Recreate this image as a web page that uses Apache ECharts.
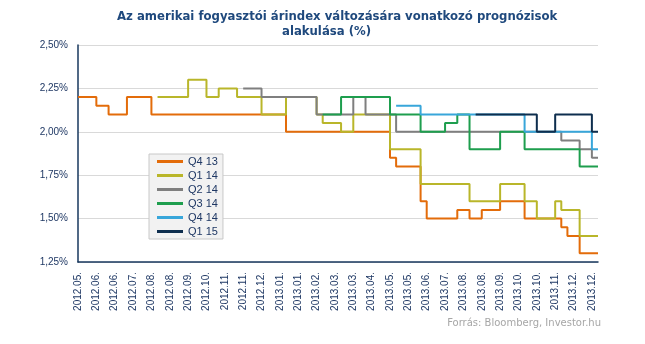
<!DOCTYPE html>
<html>
<head>
<meta charset="utf-8">
<script src="https://cdn.jsdelivr.net/npm/echarts@6/dist/echarts.min.js"></script>
<style>html,body{margin:0;padding:0;background:#fff}#c{width:645px;height:344px}</style>
</head>
<body>
<div id="c"></div>
<script>
// 29 tick labels, one every 3rd weekly observation
var tickLabels = ['2012.05.','2012.06.','2012.06.','2012.07.','2012.08.','2012.08.','2012.09.','2012.10.','2012.11.','2012.11.','2012.12.','2013.01.','2013.01.','2013.02.','2013.03.','2013.03.','2013.04.','2013.05.','2013.05.','2013.06.','2013.07.','2013.08.','2013.08.','2013.09.','2013.10.','2013.10.','2013.11.','2013.12.','2013.12.'];
var seriesNames = ['Q4 13','Q1 14','Q2 14','Q3 14','Q4 14','Q1 15'];
var seriesColors = ['#E36C0A','#B9B62A','#7F7F7F','#1E9E4E','#38A6DA','#0E2E4E'];

var q4_13 = [2.20,2.20,2.20,2.15,2.15,2.10,2.10,2.10,2.20,2.20,
             2.20,2.20,2.10,2.10,2.10,2.10,2.10,2.10,2.10,2.10,
             2.10,2.10,2.10,2.10,2.10,2.10,2.10,2.10,2.10,2.10,
             2.10,2.10,2.10,2.10,2.00,2.00,2.00,2.00,2.00,2.00,
             2.00,2.00,2.00,2.00,2.00,2.00,2.00,2.00,2.00,2.00,
             2.00,1.85,1.80,1.80,1.80,1.80,1.60,1.50,1.50,1.50,
             1.50,1.50,1.55,1.55,1.50,1.50,1.55,1.55,1.55,1.60,
             1.60,1.60,1.60,1.50,1.50,1.50,1.50,1.50,1.50,1.45,
             1.40,1.40,1.30,1.30,1.30,1.30];
var q1_14 = [null,null,null,null,null,null,null,null,null,null,
             null,null,null,2.20,2.20,2.20,2.20,2.20,2.30,2.30,
             2.30,2.20,2.20,2.25,2.25,2.25,2.20,2.20,2.20,2.20,
             2.10,2.10,2.10,2.10,2.20,2.20,2.20,2.20,2.20,2.10,
             2.05,2.05,2.05,2.00,2.00,2.10,2.10,2.10,2.10,2.10,
             2.10,1.90,1.90,1.90,1.90,1.90,1.70,1.70,1.70,1.70,
             1.70,1.70,1.70,1.70,1.60,1.60,1.60,1.60,1.60,1.70,
             1.70,1.70,1.70,1.60,1.60,1.50,1.50,1.50,1.60,1.55,
             1.55,1.55,1.40,1.40,1.40,1.40];
var q2_14 = [null,null,null,null,null,null,null,null,null,null,
             null,null,null,null,null,null,null,null,null,null,
             null,null,null,null,null,null,null,2.25,2.25,2.25,
             2.20,2.20,2.20,2.20,2.20,2.20,2.20,2.20,2.20,2.10,
             2.10,2.10,2.10,2.10,2.10,2.20,2.20,2.10,2.10,2.10,
             2.10,2.10,2.00,2.00,2.00,2.00,2.00,2.00,2.00,2.00,
             2.00,2.00,2.00,2.00,2.00,2.00,2.00,2.00,2.00,2.00,
             2.00,2.00,2.00,2.00,2.00,2.00,2.00,2.00,2.00,1.95,
             1.95,1.95,1.90,1.90,1.85,1.85];
var q3_14 = [null,null,null,null,null,null,null,null,null,null,
             null,null,null,null,null,null,null,null,null,null,
             null,null,null,null,null,null,null,null,null,null,
             null,null,null,null,null,null,null,null,null,null,
             2.10,2.10,2.10,2.20,2.20,2.20,2.20,2.20,2.20,2.20,
             2.20,2.10,2.10,2.10,2.10,2.10,2.00,2.00,2.00,2.00,
             2.05,2.05,2.10,2.10,1.90,1.90,1.90,1.90,1.90,2.00,
             2.00,2.00,2.00,1.90,1.90,1.90,1.90,1.90,1.90,1.90,
             1.90,1.90,1.80,1.80,1.80,1.80];
var q4_14 = [null,null,null,null,null,null,null,null,null,null,
             null,null,null,null,null,null,null,null,null,null,
             null,null,null,null,null,null,null,null,null,null,
             null,null,null,null,null,null,null,null,null,null,
             null,null,null,null,null,null,null,null,null,null,
             null,null,2.15,2.15,2.15,2.15,2.10,2.10,2.10,2.10,
             2.10,2.10,2.10,2.10,2.10,2.10,2.10,2.10,2.10,2.10,
             2.10,2.10,2.10,2.00,2.00,2.00,2.00,2.00,2.00,2.00,
             2.00,2.00,2.00,2.00,1.90,1.90];
var q1_15 = [null,null,null,null,null,null,null,null,null,null,
             null,null,null,null,null,null,null,null,null,null,
             null,null,null,null,null,null,null,null,null,null,
             null,null,null,null,null,null,null,null,null,null,
             null,null,null,null,null,null,null,null,null,null,
             null,null,null,null,null,null,null,null,null,null,
             null,null,null,null,null,2.10,2.10,2.10,2.10,2.10,
             2.10,2.10,2.10,2.10,2.10,2.00,2.00,2.00,2.10,2.10,
             2.10,2.10,2.10,2.10,2.00,2.00];
var allSeries = [q4_13,q1_14,q2_14,q3_14,q4_14,q1_15];
var categories = q4_13.map(function(_, i){ return 'w' + i; });

var chart = echarts.init(document.getElementById('c'), null, {renderer:'canvas'});
var navy = '#1F3864';
chart.setOption({
  animation: false,
  backgroundColor: '#ffffff',
  grid: {left: 78, right: 47, top: 45, bottom: 82, containLabel: false},
  graphic: [
    {type:'text', left: 117, top: 11, style:{text:'Az amerikai fogyasztói árindex változására vonatkozó prognózisok', font:'bold 11.7px "DejaVu Sans"', fill:'#1F497D'}},
    {type:'text', left: 282, top: 26, style:{text:'alakulása (%)', font:'bold 11.7px "DejaVu Sans"', fill:'#1F497D'}},
    {type:'text', right: 44, top: 318, style:{text:'Forrás: Bloomberg, Investor.hu', font:'10px "DejaVu Sans"', fill:'#A6A6A6'}}
  ],
  legend: {
    orient: 'vertical', left: 149, top: 154,
    backgroundColor: '#F2F2F2', borderColor: '#C8C8C8', borderWidth: 1,
    padding: [1, 5, 1, 8], itemGap: 1,
    itemWidth: 26, itemHeight: 3, icon: 'rect',
    textStyle: {color: navy, fontSize: 11, fontFamily: 'Liberation Sans', lineHeight: 13},
    data: seriesNames
  },
  xAxis: {
    type: 'category', data: categories, boundaryGap: false,
    axisLine: {lineStyle: {color: '#17375E', width: 1.5}},
    axisTick: {show: false},
    axisLabel: {
      rotate: 90, margin: 10, color: navy, fontSize: 10, fontFamily: 'Liberation Sans',
      interval: function(i){ return i % 3 === 0; },
      formatter: function(v, i){ return tickLabels[i / 3] || ''; }
    },
    splitLine: {show: false}
  },
  yAxis: {
    type: 'value', min: 1.25, max: 2.5, interval: 0.25,
    axisLine: {show: true, lineStyle: {color: '#17375E', width: 1.5}},
    axisTick: {show: false},
    axisLabel: {margin: 10, color: navy, fontSize: 10, fontFamily: 'Liberation Sans',
      formatter: function(v){ return v.toFixed(2).replace('.', ',') + '%'; }},
    splitLine: {lineStyle: {color: '#D9D9D9', width: 1}}
  },
  series: allSeries.map(function(d, k){
    return {
      name: seriesNames[k], type: 'line', step: 'end', data: d,
      showSymbol: false, symbol: 'none', connectNulls: false,
      lineStyle: {color: seriesColors[k], width: 2},
      itemStyle: {color: seriesColors[k]}
    };
  })
});
</script>
</body>
</html>
